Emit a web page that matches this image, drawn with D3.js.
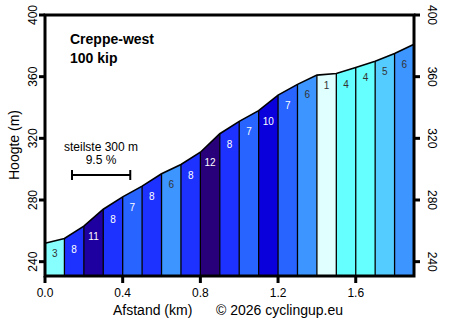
<!DOCTYPE html>
<html>
<head>
<meta charset="utf-8">
<script src="https://cdn.jsdelivr.net/npm/d3@7"></script>
<style>
  html, body { margin: 0; padding: 0; background: #fff; }
  svg { display: block; font-family: "Liberation Sans", Arial, sans-serif; }
</style>
</head>
<body>
<div id="chart"></div>
<script>
// Climb data: 100 m segments, gradient in %
const startHeight = 252;
const segmentLength = 0.1;
const gradients = [3, 8, 11, 8, 7, 8, 6, 8, 12, 8, 7, 10, 7, 6, 1, 4, 4, 5, 6];
const xTicks = [0.0, 0.4, 0.8, 1.2, 1.6];
const yTicks = [240, 280, 320, 360, 400];

const climbName = "Creppe-west";
const climbSub = "100 kip";

// Colour per gradient class
const gradeColors = {
  1: "#e0ffff", 2: "#b0ffff", 3: "#88ffff", 4: "#66ffff", 5: "#55ccff",
  6: "#3d96ff", 7: "#2864ff", 8: "#1e32ff", 9: "#1414f0", 10: "#0a00dc",
  11: "#1e00a0", 12: "#28007a"
};

const W = 456, H = 322;
const margin = { top: 15, right: 42, bottom: 46, left: 45 };

const svg = d3.select("#chart").append("svg")
  .attr("width", W).attr("height", H);

const x = d3.scaleLinear().domain([0, 1.9]).range([margin.left, W - margin.right]);
const y = d3.scaleLinear().domain([230.7, 400]).range([H - margin.bottom, margin.top]);

// Build segments from the gradients
let h = startHeight;
const segs = gradients.map((g, i) => {
  const s = { x0: i * segmentLength, x1: (i + 1) * segmentLength, h0: h, h1: h + g * segmentLength * 10, g: g };
  h = s.h1;
  return s;
});

const y0 = y.range()[0];

// Filled bars
svg.selectAll(".seg")
  .data(segs)
  .enter().append("path")
  .attr("class", "seg")
  .attr("d", d => `M${x(d.x0)},${y0}L${x(d.x0)},${y(d.h0)}L${x(d.x1)},${y(d.h1)}L${x(d.x1)},${y0}Z`)
  .attr("fill", d => gradeColors[d.g])
  .attr("stroke", "none");

// Separators
svg.selectAll(".sep")
  .data(segs.slice(1))
  .enter().append("line")
  .attr("x1", d => x(d.x0)).attr("x2", d => x(d.x0))
  .attr("y1", d => y(d.h0)).attr("y2", y0)
  .attr("stroke", "#000").attr("stroke-width", 1.3);

// Profile line
const pts = [[segs[0].x0, segs[0].h0]].concat(segs.map(d => [d.x1, d.h1]));
svg.append("path")
  .attr("d", d3.line().x(d => x(d[0])).y(d => y(d[1]))(pts))
  .attr("fill", "none").attr("stroke", "#000").attr("stroke-width", 1.6);

// Gradient labels
svg.selectAll(".glab")
  .data(segs)
  .enter().append("text")
  .attr("x", d => x((d.x0 + d.x1) / 2))
  .attr("y", d => y(d.h0) + 14)
  .attr("text-anchor", "middle")
  .style("font-size", "10px")
  .attr("fill", d => d.g >= 7 ? "#fff" : "#333")
  .text(d => d.g);

// Frame
const fx0 = margin.left, fx1 = W - margin.right, fy0 = margin.top, fy1 = y0;
svg.append("rect")
  .attr("x", fx0).attr("y", fy0).attr("width", fx1 - fx0).attr("height", fy1 - fy0)
  .attr("fill", "none").attr("stroke", "#000").attr("stroke-width", 3);

// X axis ticks and labels
svg.selectAll(".xt")
  .data(xTicks)
  .enter().append("line")
  .attr("x1", d => x(d)).attr("x2", d => x(d))
  .attr("y1", fy1).attr("y2", fy1 + 7)
  .attr("stroke", "#000").attr("stroke-width", 3);

svg.selectAll(".xl")
  .data(xTicks)
  .enter().append("text")
  .attr("x", d => x(d)).attr("y", 297)
  .attr("text-anchor", "middle")
  .style("font-size", "12px")
  .text(d => d.toFixed(1));

// Y axis ticks, both sides
svg.selectAll(".ytl")
  .data(yTicks)
  .enter().append("line")
  .attr("x1", fx0 - 6).attr("x2", fx0)
  .attr("y1", d => y(d)).attr("y2", d => y(d))
  .attr("stroke", "#000").attr("stroke-width", 3);

svg.selectAll(".ytr")
  .data(yTicks)
  .enter().append("line")
  .attr("x1", fx1).attr("x2", fx1 + 6)
  .attr("y1", d => y(d)).attr("y2", d => y(d))
  .attr("stroke", "#000").attr("stroke-width", 3);

svg.selectAll(".yll")
  .data(yTicks)
  .enter().append("text")
  .attr("transform", d => `translate(37,${y(d)}) rotate(-90)`)
  .attr("text-anchor", "middle")
  .style("font-size", "12px")
  .text(d => d);

svg.selectAll(".ylr")
  .data(yTicks)
  .enter().append("text")
  .attr("transform", d => `translate(428,${y(d)}) rotate(90)`)
  .attr("text-anchor", "middle")
  .style("font-size", "12px")
  .text(d => d);

// Axis titles
svg.append("text")
  .attr("transform", "translate(19,145) rotate(-90)")
  .attr("text-anchor", "middle")
  .style("font-size", "14px")
  .text("Hoogte (m)");

svg.append("text")
  .attr("x", 113).attr("y", 315)
  .style("font-size", "14px")
  .text("Afstand (km)");

svg.append("text")
  .attr("x", 216).attr("y", 315)
  .style("font-size", "14px")
  .text("\u00a9 2026 cyclingup.eu");

// Title
svg.append("text")
  .attr("x", 70).attr("y", 44)
  .style("font-size", "14px").style("font-weight", "bold")
  .text(climbName);
svg.append("text")
  .attr("x", 70).attr("y", 63)
  .style("font-size", "14px").style("font-weight", "bold")
  .text(climbSub);

// Steepest 300 m legend
svg.append("text")
  .attr("x", 101).attr("y", 151)
  .attr("text-anchor", "middle")
  .style("font-size", "12px")
  .text("steilste 300 m");
svg.append("text")
  .attr("x", 101).attr("y", 164)
  .attr("text-anchor", "middle")
  .style("font-size", "12px")
  .text("9.5 %");

const bx0 = 72, bx1 = bx0 + (x(0.3) - x(0)), by = 175;
svg.append("line").attr("x1", bx0).attr("x2", bx1).attr("y1", by).attr("y2", by)
  .attr("stroke", "#000").attr("stroke-width", 2);
[bx0, bx1].forEach(v => {
  svg.append("line").attr("x1", v).attr("x2", v).attr("y1", by - 5).attr("y2", by + 5)
    .attr("stroke", "#000").attr("stroke-width", 2);
});
</script>
</body>
</html>
